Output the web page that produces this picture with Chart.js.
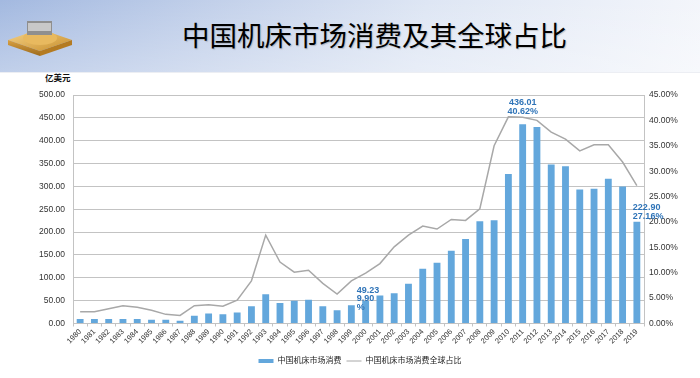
<!DOCTYPE html>
<html>
<head>
<meta charset="utf-8">
<script src="https://cdn.jsdelivr.net/npm/chart.js@4/dist/chart.umd.min.js"></script>
<style>
  html, body { margin: 0; padding: 0; background: #ffffff; }
  #wrap { position: relative; width: 700px; height: 378px; overflow: hidden; background: #fff; }
  #header {
    position: absolute; left: 0; top: 0; width: 700px; height: 72px;
    background:
      linear-gradient(180deg, rgba(255,255,255,0) 0%, rgba(255,255,255,0.3) 100%),
      linear-gradient(100deg, #a3b9e0 0%, #c2d0ea 30%, #dee6f4 60%, #f4f6fb 100%);
    border-bottom: 1px solid #eceef3;
  }
  #title {
    position: absolute; left: 182px; top: 18px; height: 32px; line-height: 32px;
    font-family: 'Noto Sans CJK SC', sans-serif; font-weight: 400; font-size: 27.5px;
    color: #000; white-space: nowrap; text-shadow: 1px 1px 1px rgba(90,90,90,0.3);
  }
  #unit {
    position: absolute; left: 45px; top: 71px; font-family: 'Noto Sans CJK SC', sans-serif;
    font-weight: 700; font-size: 8.5px; color: #111; line-height: 12px;
  }
  #logo { position: absolute; left: 6px; top: 16px; }
  canvas { position: absolute; left: 0; top: 0; }
</style>
</head>
<body>
<div id="wrap">
  <div id="header"></div>
  <svg id="logo" width="68" height="42" viewBox="0 0 68 42">
    <defs>
      <linearGradient id="g1" x1="0" y1="0" x2="1" y2="1">
        <stop offset="0" stop-color="#f6d48a"/><stop offset="1" stop-color="#c98f2c"/>
      </linearGradient>
      <linearGradient id="g2" x1="0" y1="0" x2="0" y2="1">
        <stop offset="0" stop-color="#d9a143"/><stop offset="1" stop-color="#9c6a1c"/>
      </linearGradient>
    </defs>
    <polygon points="2,24 34,13 66,24 34,35" fill="url(#g1)"/>
    <polygon points="2,24 34,35 34,40 2,29" fill="url(#g2)"/>
    <polygon points="66,24 34,35 34,40 66,29" fill="#b47b22"/>
    <ellipse cx="34" cy="22" rx="17" ry="7" fill="#e8b95f"/>
    <rect x="21" y="5" width="25" height="14" fill="#8f8f8f"/>
    <rect x="22" y="7" width="23" height="8" fill="#c8c8c8"/>
  </svg>
  <div id="title">中国机床市场消费及其全球占比</div>
  <div id="unit">亿美元</div>
  <canvas id="c" width="700" height="378"></canvas>
</div>
<script>
const years = ['1980','1981','1982','1983','1984','1985','1986','1987','1988','1989',
  '1990','1991','1992','1993','1994','1995','1996','1997','1998','1999',
  '2000','2001','2002','2003','2004','2005','2006','2007','2008','2009',
  '2010','2011','2012','2013','2014','2015','2016','2017','2018','2019'];
const consumption = [10,10,10,10,10,8,8,6,17,22,
  20,24,38,64,45,50,52,38,29,40,
  49.23,61,66,87,120,133,159,185,224,226,
  327,436.01,430,348,344,293,295,317,300,222.90];
const globalShare = [2.3,2.3,2.9,3.5,3.2,2.6,1.8,1.6,3.5,3.7,
  3.4,4.6,8.4,17.4,12.1,10.1,10.5,7.9,5.8,8.4,
  9.90,11.8,15.1,17.4,19.2,18.6,20.5,20.3,22.6,35.0,
  40.7,40.62,40.0,37.7,36.3,34.0,35.2,35.2,31.8,27.16];
const barLabel = '中国机床市场消费';
const lineLabel = '中国机床市场消费全球占比';
const leftTicks = { min: 0, max: 500, step: 50 };
const rightTicks = { min: 0, max: 45, step: 5 };
// annotated points: year, text lines
const annotations = [
  { year: '2000', lines: ['49.23', '9.90', '%'], align: 'left', dx: -9, dy: [-10, -2, 7] },
  { year: '2011', lines: ['436.01', '40.62%'], align: 'center', dx: 0, dy: [-22, -13] },
  { year: '2019', lines: ['222.90', '27.16%'], align: 'left', dx: -4, dy: [-14, -5] }
];

const FONT = "'Liberation Sans', 'Noto Sans CJK SC', Arial, sans-serif";
const barColor = '#63a7dc';
const lineColor = '#a8a8a8';
const gridColor = '#c3c3c3';

const labelPlugin = {
  id: 'pointLabels',
  afterLayout(chart) {
    chart.legend.left += 10;
    chart.legend.right += 10;
  },
  afterDatasetsDraw(chart) {
    const ctx = chart.ctx;
    const meta = chart.getDatasetMeta(0);
    ctx.save();
    ctx.font = 'bold 9px ' + FONT;
    ctx.fillStyle = '#2f74b8';
    ctx.textBaseline = 'middle';
    annotations.forEach(a => {
      const i = years.indexOf(a.year);
      const el = meta.data[i];
      ctx.textAlign = a.align;
      a.lines.forEach((t, k) => ctx.fillText(t, el.x + a.dx, el.y + a.dy[k]));
    });
    ctx.restore();
  }
};

new Chart(document.getElementById('c'), {
  data: {
    labels: years,
    datasets: [
      {
        type: 'bar', label: barLabel, data: consumption, yAxisID: 'y',
        backgroundColor: barColor, borderWidth: 0,
        categoryPercentage: 1, barPercentage: 0.48, order: 2
      },
      {
        type: 'line', label: lineLabel, data: globalShare, yAxisID: 'y1',
        borderColor: lineColor, backgroundColor: lineColor, borderWidth: 1.5,
        pointRadius: 0, tension: 0, order: 1
      }
    ]
  },
  options: {
    responsive: false,
    animation: false,
    layout: { padding: { top: 95, left: 0, right: 0, bottom: 3 } },
    plugins: {
      legend: {
        position: 'bottom',
        labels: {
          font: { family: FONT, size: 8 }, color: '#222',
          usePointStyle: true, pointStyleWidth: 15, boxHeight: 4, padding: 5,
          generateLabels(chart) {
            const items = Chart.defaults.plugins.legend.labels.generateLabels(chart);
            items.sort((a, b) => a.datasetIndex - b.datasetIndex);
            items.forEach(it => {
              if (it.datasetIndex === 0) {
                it.pointStyle = 'rect'; it.lineWidth = 0; it.strokeStyle = barColor; it.fillStyle = barColor;
              } else {
                it.pointStyle = 'line'; it.strokeStyle = lineColor; it.lineWidth = 1;
              }
            });
            return items;
          }
        }
      },
      tooltip: { enabled: false }
    },
    scales: {
      x: {
        offset: true,
        grid: { display: true, drawOnChartArea: false, drawTicks: true, tickLength: 3, color: gridColor, offset: true },
        border: { display: true, color: gridColor },
        ticks: { font: { family: FONT, size: 7.5 }, color: '#333', minRotation: 45, maxRotation: 45, autoSkip: false, padding: 1 },
        afterFit(s) { s.height = 28.5; }
      },
      y: {
        position: 'left', min: leftTicks.min, max: leftTicks.max,
        ticks: { stepSize: leftTicks.step, callback: v => v.toFixed(2), font: { family: FONT, size: 8.5 }, color: '#333', padding: 8 },
        grid: { color: gridColor, lineWidth: 1, drawTicks: false },
        border: { display: true, color: gridColor },
        afterFit(s) { s.width = 73; }
      },
      y1: {
        position: 'right', min: rightTicks.min, max: rightTicks.max,
        ticks: { stepSize: rightTicks.step, callback: v => v.toFixed(2) + '%', font: { family: FONT, size: 8.5 }, color: '#333', padding: 5 },
        grid: { drawOnChartArea: false, drawTicks: false },
        border: { display: true, color: gridColor },
        afterFit(s) { s.width = 56; }
      }
    }
  },
  plugins: [labelPlugin]
});
</script>
</body>
</html>
